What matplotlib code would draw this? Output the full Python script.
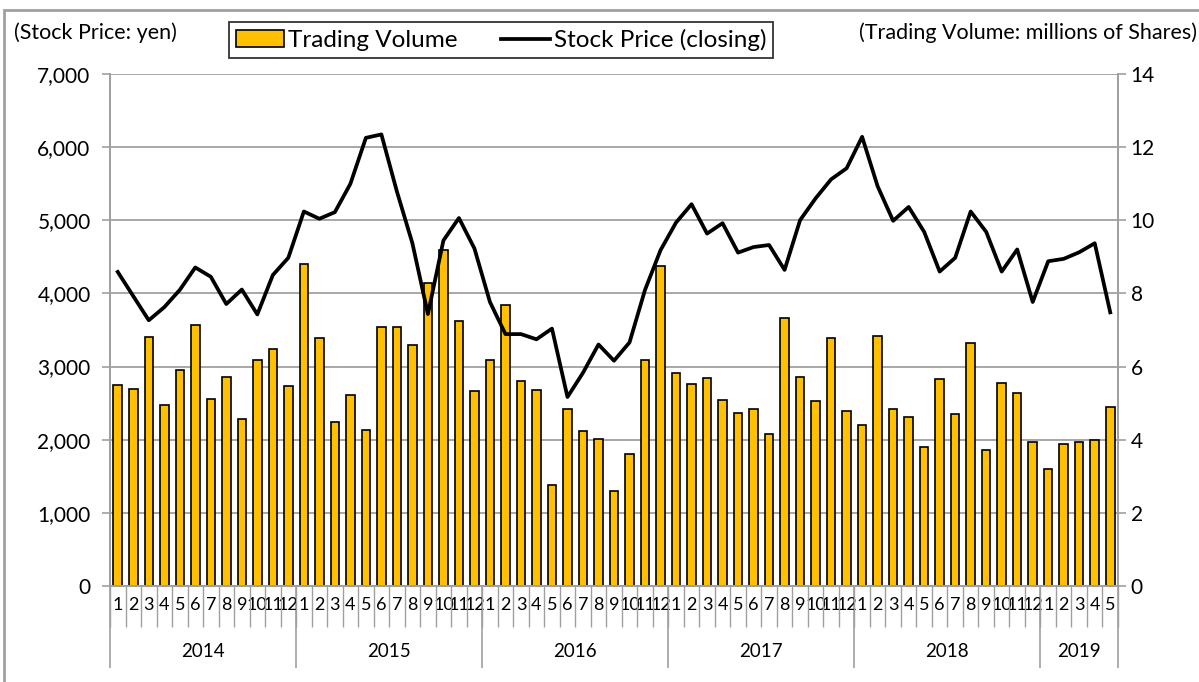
import numpy as np
import matplotlib
matplotlib.use("Agg")
import matplotlib.pyplot as plt
from matplotlib.patches import Patch, Rectangle
from matplotlib.lines import Line2D

plt.rcParams['font.family'] = ['Lato', 'DejaVu Sans']

# monthly data, Jan 2014 .. May 2019
months = list(range(1, 13)) * 5 + [1, 2, 3, 4, 5]
years = ["2014", "2015", "2016", "2017", "2018", "2019"]
year_len = [12, 12, 12, 12, 12, 5]

volume = [5.50, 5.40, 6.81, 4.96, 5.91, 7.13, 5.12, 5.72, 4.58, 6.19, 6.49, 5.46,
          8.81, 6.78, 4.48, 5.21, 4.26, 7.09, 7.09, 6.58, 8.28, 9.20, 7.25, 5.33,
          6.19, 7.68, 5.61, 5.36, 2.77, 4.83, 4.23, 4.02, 2.60, 3.60, 6.19, 8.75,
          5.82, 5.51, 5.70, 5.08, 4.74, 4.83, 4.15, 7.34, 5.71, 5.07, 6.79, 4.78,
          4.39, 6.83, 4.83, 4.63, 3.80, 5.65, 4.70, 6.64, 3.73, 5.54, 5.29, 3.93,
          3.19, 3.88, 3.94, 4.00, 4.90]

price = [4294, 3963, 3633, 3812, 4048, 4355, 4228, 3855, 4053, 3713, 4251, 4488,
         5120, 5021, 5111, 5498, 6127, 6174, 5394, 4686, 3718, 4724, 5031, 4615,
         3883, 3444, 3444, 3373, 3519, 2584, 2915, 3302, 3080, 3330, 4048, 4591,
         4969, 5220, 4818, 4960, 4558, 4634, 4662, 4322, 5002, 5300, 5560, 5711,
         6141, 5465, 4993, 5182, 4842, 4299, 4487, 5120, 4842, 4299, 4601, 3883,
         4440, 4473, 4563, 4686, 3741]

GRAY = "#a0a0a0"
BAR = "#ffc000"
W, H = 1199, 682

fig = plt.figure(figsize=(W / 100, H / 100), dpi=100)
# outer frame
fig.patches.append(Rectangle((4 / W, -0.01), 1.01, 1 - 10 / H + 0.01, transform=fig.transFigure,
                             fill=False, edgecolor=GRAY, linewidth=2))

axp = fig.add_axes([110 / W, 1 - 586 / H, (1118 - 110) / W, (586 - 74) / H])
axv = axp.twinx()
axp.set_zorder(2)
axp.patch.set_visible(False)
axv.set_zorder(1)
axv.patch.set_visible(True)
axv.patch.set_facecolor("white")

x = np.arange(len(volume))
axv.bar(x, volume, width=0.55, color=BAR, edgecolor="black", linewidth=1.2, zorder=2)
axv.set_ylim(0, 14)
axv.set_yticks(range(0, 15, 2))
axv.grid(axis="y", color=GRAY, linewidth=1.3, zorder=0)
axv.set_axisbelow(True)
axv.tick_params(axis="y", direction="out", length=6, width=1.2, color=GRAY,
                labelsize=15, pad=3)

axp.plot(x, price, color="black", linewidth=2.7, zorder=3)
axp.set_ylim(0, 7000)
axp.set_yticks(range(0, 7001, 1000))
axp.set_yticklabels([f"{v:,}" for v in range(0, 7001, 1000)])
axp.tick_params(axis="y", direction="out", length=6, width=1.2, color=GRAY,
                labelsize=15, pad=8)
axp.set_xlim(-0.5, len(volume) - 0.5)

for a in (axp, axv):
    a.spines["top"].set_visible(False)
    for s in ("left", "right", "bottom"):
        a.spines[s].set_color(GRAY)
        a.spines[s].set_linewidth(1.3)

# month labels and separators
axp.set_xticks(x)
axp.set_xticklabels([str(m) for m in months])
axp.set_xticks(np.arange(-0.5, len(volume), 1.0), minor=True)
axp.tick_params(axis="x", which="major", length=0, labelsize=13, pad=8)
axp.tick_params(axis="x", which="minor", direction="out", length=29.5, width=1, color=GRAY)

# year labels and separators
bounds = np.concatenate([[0], np.cumsum(year_len)]) - 0.5
centers = (bounds[:-1] + bounds[1:]) / 2
sec = axp.secondary_xaxis("bottom")
sec.spines["bottom"].set_visible(False)
sec.set_xticks(bounds)
sec.set_xticklabels([""] * len(bounds))
sec.set_xticks(centers, minor=True)
sec.set_xticklabels(years, minor=True)
sec.tick_params(axis="x", which="major", direction="out", length=59, width=1.2, color=GRAY)
sec.tick_params(axis="x", which="minor", length=0, labelsize=13.5, pad=41)

# axis titles
fig.text(14 / W, 1 - 33 / H, "(Stock Price: yen)", fontsize=15.5, va="center", ha="left")
fig.text(1197 / W, 1 - 33 / H, "(Trading Volume: millions of Shares)", fontsize=15.5,
         va="center", ha="right")

handles = [Patch(facecolor=BAR, edgecolor="black", linewidth=1.2),
           Line2D([0], [0], color="black", linewidth=2.7)]
leg = fig.legend(handles, ["Trading Volume", "Stock Price (closing)"], ncol=2,
                 loc="center", bbox_to_anchor=(501 / W, 1 - 40 / H), fontsize=17.5,
                 frameon=True, fancybox=False, edgecolor="black", handlelength=2.0,
                 handletextpad=0.15, columnspacing=1.8, borderpad=0.3)
leg.get_frame().set_linewidth(1.3)

fig.savefig("out.png", dpi=100)
